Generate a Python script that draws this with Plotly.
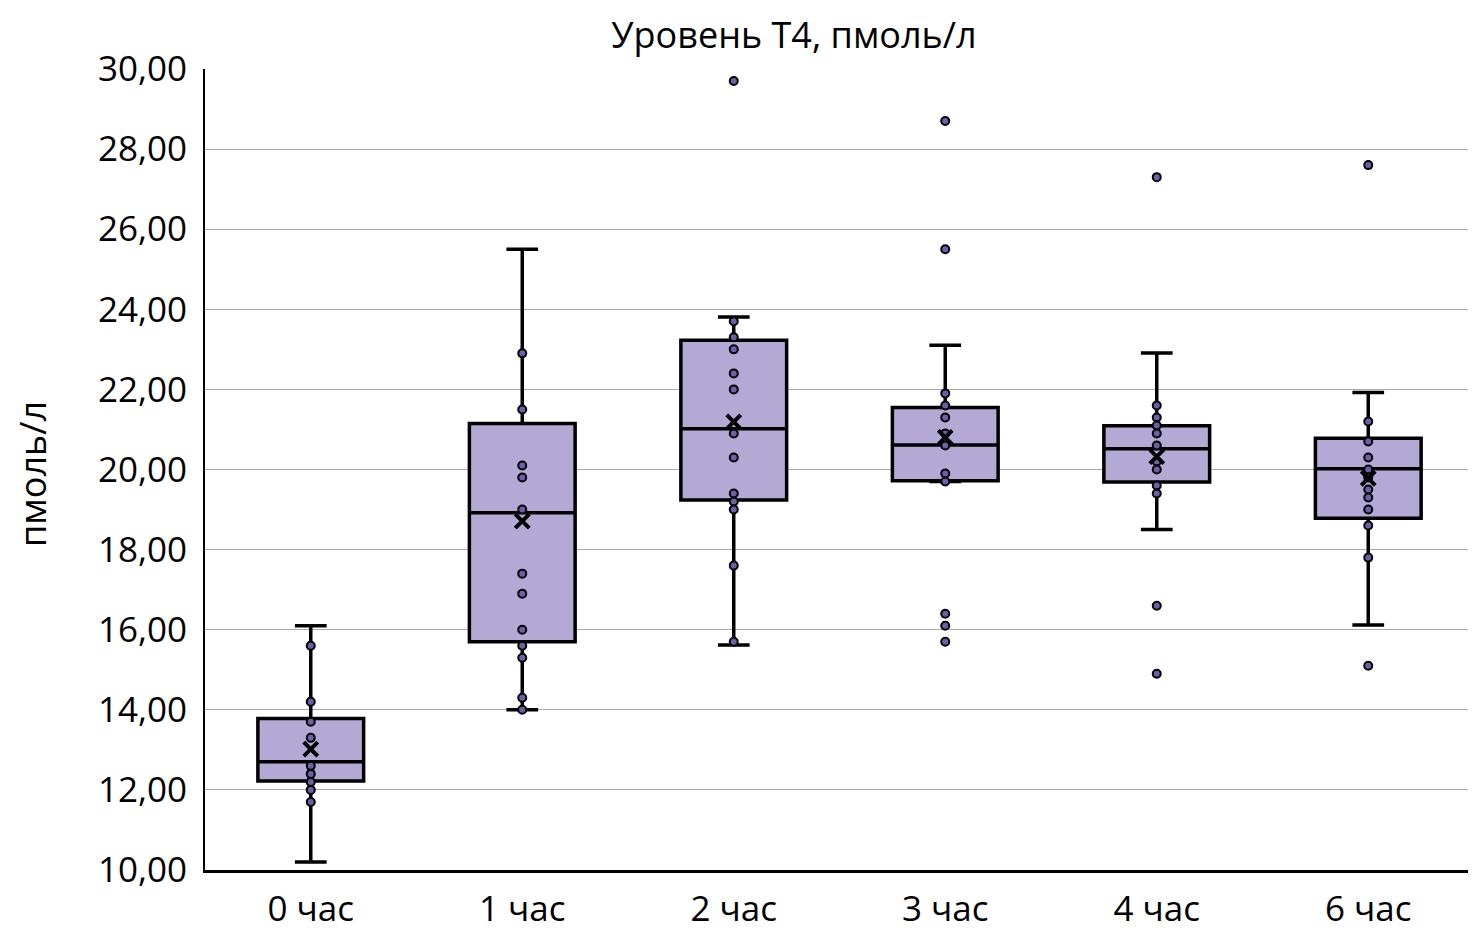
import plotly.graph_objects as go

categories = ["0 час", "1 час", "2 час", "3 час", "4 час", "6 час"]

q1 = [12.22, 15.70, 19.24, 19.72, 19.69, 18.78]
median = [12.70, 18.92, 21.02, 20.61, 20.52, 20.02]
q3 = [13.78, 21.15, 23.23, 21.55, 21.09, 20.78]
lower_whisker = [10.20, 14.00, 15.62, 19.70, 18.50, 16.12]
upper_whisker = [16.10, 25.50, 23.81, 23.10, 22.91, 21.92]
means = [13.02, 18.71, 21.19, 20.80, 20.32, 19.78]

points_0 = [15.6, 14.2, 13.7, 13.3, 12.6, 12.4, 12.2, 12.0, 11.7]
points_1 = [22.9, 21.5, 20.1, 19.8, 19.0, 17.4, 16.9, 16.0, 15.6, 15.3, 14.3, 14.0]
points_2 = [29.7, 23.7, 23.3, 23.0, 22.4, 22.0, 20.9, 20.3, 19.4, 19.2, 19.0, 17.6, 15.7]
points_3 = [28.7, 25.5, 21.9, 21.6, 21.3, 20.9, 20.6, 19.9, 19.7, 16.4, 16.1, 15.7]
points_4 = [27.3, 21.6, 21.3, 21.1, 20.9, 20.6, 20.2, 20.0, 19.6, 19.4, 16.6, 14.9]
points_5 = [27.6, 21.2, 20.7, 20.3, 20.0, 19.8, 19.5, 19.3, 19.0, 18.6, 17.8, 15.1]

all_points = [points_0, points_1, points_2, points_3, points_4, points_5]

FONT = "Open Sans"

fig = go.Figure()

fig.add_trace(go.Box(
    x=categories,
    q1=q1, median=median, q3=q3,
    lowerfence=lower_whisker, upperfence=upper_whisker,
    fillcolor="#b3a9d4",
    line=dict(color="black", width=3.5),
    width=0.5,
    whiskerwidth=0.3,
    boxpoints=False,
    hoverinfo="skip",
    showlegend=False,
))

px_x, px_y = [], []
for cat, pts in zip(categories, all_points):
    for v in pts:
        px_x.append(cat)
        px_y.append(v)

fig.add_trace(go.Scatter(
    x=px_x, y=px_y, mode="markers",
    marker=dict(size=8, color="#6e5ea8", line=dict(color="black", width=2)),
    showlegend=False,
))

fig.add_trace(go.Scatter(
    x=categories, y=means, mode="markers",
    marker=dict(symbol="x-thin", size=14, color="black",
                line=dict(color="black", width=4)),
    showlegend=False,
))

fig.update_layout(
    width=1468, height=930,
    margin=dict(l=197, r=2, t=61, b=68, autoexpand=False),
    paper_bgcolor="white", plot_bgcolor="white",
    separators=", ",
    font=dict(family=FONT, size=32, color="black"),
    title=dict(text="Уровень Т4, пмоль/л", x=(794 - 8) / 1468, xanchor="center",
               y=1 - 27 / 930, yanchor="middle", yref="container",
               font=dict(family=FONT, size=36, color="black")),
    xaxis=dict(
        type="category", categoryorder="array", categoryarray=categories,
        range=[-0.5, 5.5], automargin=False,
        showline=True, linecolor="black", linewidth=2.5,
        showgrid=False, ticks="", ticklen=0, ticklabelstandoff=6,
        tickfont=dict(family=FONT, size=35, color="black"),
    ),
    yaxis=dict(
        range=[10, 30], dtick=2, tick0=10, tickformat=".2f", automargin=False,
        showline=True, linecolor="black", linewidth=2,
        showgrid=True, gridcolor="#ababab", gridwidth=1,
        zeroline=False, ticks="", ticklen=0, ticklabelstandoff=9,
        tickfont=dict(family=FONT, size=35, color="black"),
    ),
    annotations=[dict(
        text="пмоль/л", textangle=-90,
        xref="paper", yref="paper",
        x=(32 - 205) / 1269, y=(870 - 474) / 801,
        xanchor="center", yanchor="middle", showarrow=False,
        font=dict(family=FONT, size=36, color="black"),
    )],
)

fig.write_html("out.html")
